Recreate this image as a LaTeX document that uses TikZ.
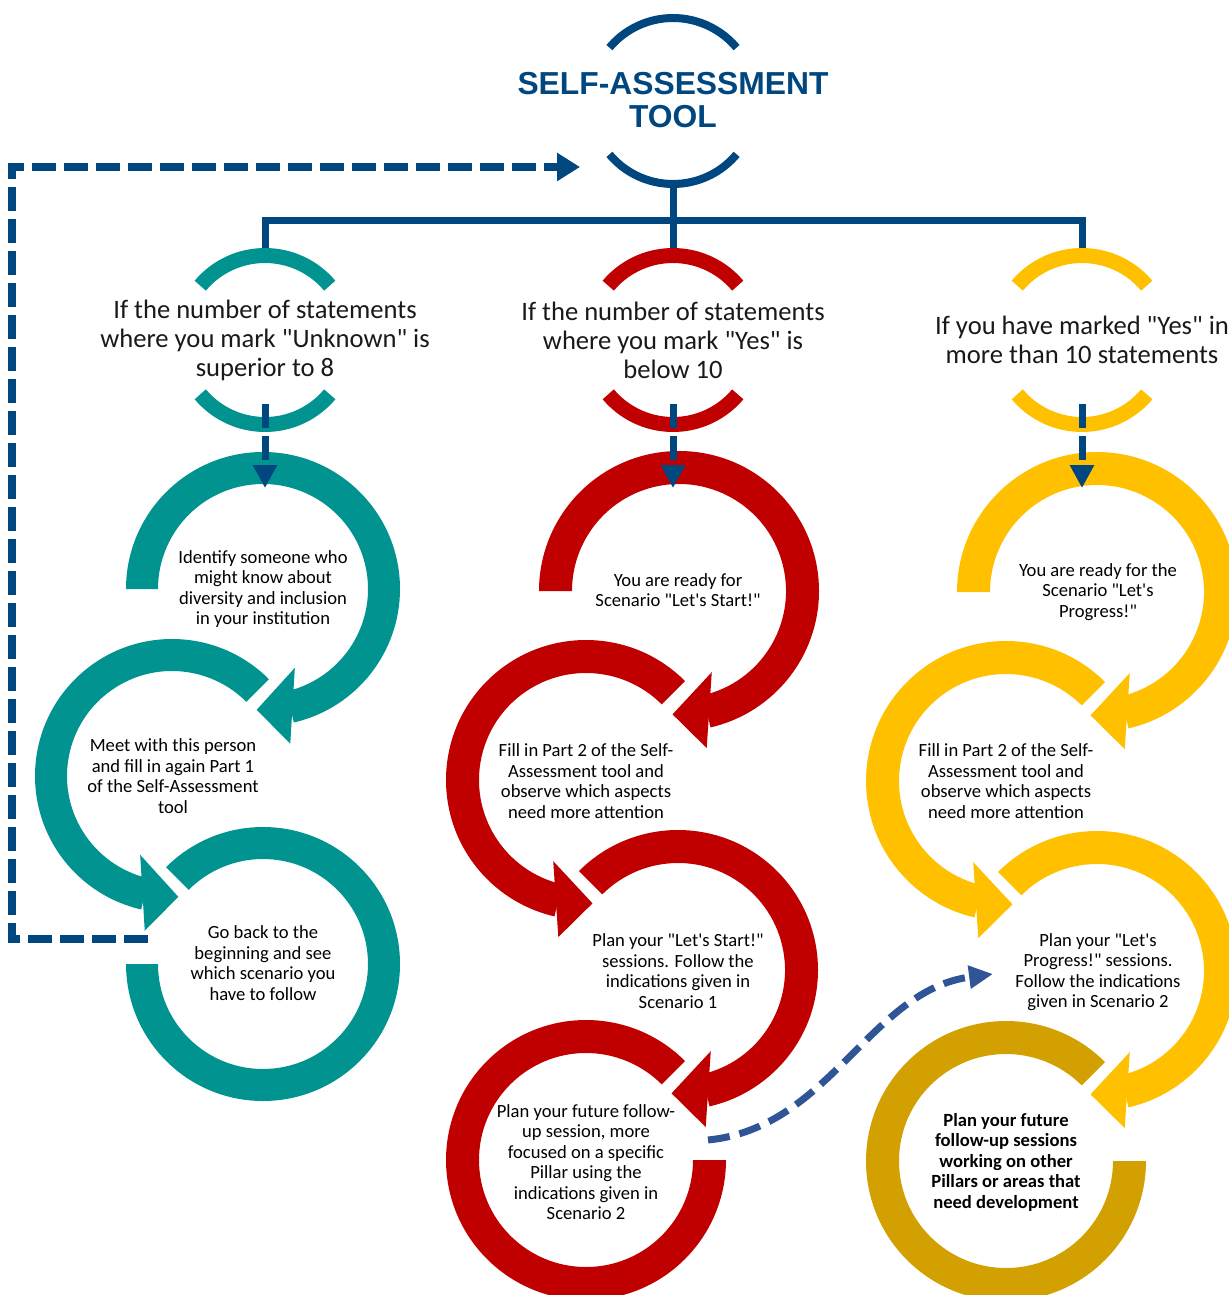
\documentclass[tikz,border=0pt]{standalone}
\usepackage{fontspec}
\setmainfont{Carlito}[Ligatures=TeXOff]
\newfontfamily\titlefont{Liberation Sans}[Ligatures=TeXOff]
\usetikzlibrary{arrows.meta}
\definecolor{navy}{RGB}{0,70,127}
\definecolor{tealc}{RGB}{0,147,144}
\definecolor{redc}{RGB}{192,0,0}
\definecolor{goldc}{RGB}{255,192,0}
\definecolor{darkgoldc}{RGB}{210,160,0}
\definecolor{curveblue}{RGB}{47,85,151}
% ring band: cx, cy, start angle, end angle, inner r, outer r, colour
\newcommand\RingBand[7]{\begin{scope}[shift={(#1,#2)}]\fill[#7] (#3:#6) arc[start angle=#3,end angle=#4,radius=#6] -- (#4:#5) arc[start angle=#4,end angle=#3,radius=#5] -- cycle;\end{scope}}
% ring head: cx, cy, inner base angle, tip angle, outer base angle, mid r, colour
\newcommand\RingHead[7]{\begin{scope}[shift={(#1,#2)}]\fill[#7] (#3:{#6-36}) -- (#4:#6) -- (#5:{#6+36}) -- cycle;\end{scope}}
\tikzset{
  ctext/.style={align=center,inner sep=0pt,text=black,font=\fontsize{9.3}{10.25}\selectfont},
  htext/.style={align=center,inner sep=0pt,text=black!90,font=\fontsize{13.3}{14.5}\selectfont},
  titletext/.style={align=center,inner sep=0pt,text=navy,font=\titlefont\bfseries\fontsize{15.9}{16.5}\selectfont},
  tree/.style={navy,line width=3.5pt},
  hdarc/.style={line width=7.5pt},
  downarrow/.style={navy,line width=3.5pt,dash pattern=on 12pt off 4pt,-{Triangle[length=11.5pt,width=11.5pt]}},
  looparrow/.style={navy,line width=4pt,dash pattern=on 12pt off 4pt,-{Triangle[length=11.5pt,width=13.5pt]}},
  curvearrow/.style={curveblue,line width=3.5pt,dash pattern=on 11pt off 5pt,-{Triangle[length=12pt,width=11pt]}}
}
\begin{document}
\begin{tikzpicture}[x=0.5pt,y=0.5pt]
\useasboundingbox (0,0) rectangle (1229,-1295);
% ---------- title ----------
\draw[navy,line width=4pt] (673,-101) ++(40:83) arc[start angle=40,end angle=140,radius=83];
\draw[navy,line width=4pt] (673,-101) ++(220:83) arc[start angle=220,end angle=320,radius=83];
\node[titletext] (title) at (673,-100) {SELF-ASSESSMENT\\TOOL};
% ---------- tree ----------
\coordinate (tb) at (673,-186);
\coordinate (hl) at (265,-252);
\coordinate (hm) at (673,-252);
\coordinate (hr) at (1082,-252);
\coordinate (trr) at (1082,-220);
\draw[tree] (tb) -- (hm);
\draw[tree] (hl) |- (trr) -- (hr);
% ---------- header arcs ----------
\foreach \cx/\col in {265/tealc,673/redc,1082/goldc}{
  \draw[hdarc,\col] (\cx,-340) ++(40:84.5) arc[start angle=40,end angle=140,radius=84.5];
  \draw[hdarc,\col] (\cx,-340) ++(220:84.5) arc[start angle=220,end angle=320,radius=84.5];
}
\node[htext] (h1) at (265,-340) {If the number of statements\\where you mark "Unknown" is\\superior to 8};
\node[htext] (h2) at (673,-340) {If the number of statements\\where you mark "Yes" is\\below 10};
\node[htext] (h3) at (1082,-340) {If you have marked "Yes" in\\more than 10 statements};
% ---------- teal column ----------
\RingBand{263}{-589}{180}{-77}{105}{137}{tealc}
\RingHead{263}{-589}{-68}{-93}{-80}{121}{tealc}
\RingBand{172}{-776}{45}{257}{105}{137}{tealc}
\RingHead{172}{-776}{248}{273}{260}{121}{tealc}
\RingBand{263}{-964}{135}{-180}{105}{137}{tealc}
% ---------- red column ----------
\RingBand{679}{-591}{180}{-77}{107}{140}{redc}
\RingHead{679}{-591}{-68}{-93}{-80}{123.5}{redc}
\RingBand{586}{-780}{45}{257}{107}{140}{redc}
\RingHead{586}{-780}{248}{273}{260}{123.5}{redc}
\RingBand{678}{-970}{135}{-77}{107}{140}{redc}
\RingHead{678}{-970}{-68}{-93}{-80}{123.5}{redc}
\RingBand{586}{-1160}{45}{360}{107}{140}{redc}
% ---------- yellow column ----------
\RingBand{1097}{-592}{180}{-77}{107}{140}{goldc}
\RingHead{1097}{-592}{-68}{-93}{-80}{123.5}{goldc}
\RingBand{1006}{-781}{45}{257}{107}{140}{goldc}
\RingHead{1006}{-781}{248}{273}{260}{123.5}{goldc}
\RingBand{1097}{-971}{135}{-77}{107}{140}{goldc}
\RingHead{1097}{-971}{-68}{-93}{-80}{123.5}{goldc}
\RingBand{1006}{-1161}{45}{360}{107}{140}{darkgoldc}
% ---------- dashed connectors ----------
\coordinate (d1s) at (265,-404); \coordinate (d1e) at (265,-488);
\coordinate (d2s) at (673,-404); \coordinate (d2e) at (673,-488);
\coordinate (d3s) at (1082,-404); \coordinate (d3e) at (1082,-488);
\draw[downarrow] (d1s) -- (d1e);
\draw[downarrow] (d2s) -- (d2e);
\draw[downarrow] (d3s) -- (d3e);
\coordinate (ls) at (148,-939);
\coordinate (lc1) at (12,-939);
\coordinate (lc2) at (12,-167);
\coordinate (le) at (580,-167);
\draw[looparrow] (ls) -- (lc1) -- (lc2) -- (le);
\coordinate (cs) at (708,-1140);
\coordinate (ce) at (993,-974);
\draw[curvearrow] (cs) .. controls (830,-1128) and (870,-990) .. (ce);
% ---------- circle texts ----------
\node[ctext] (t1) at (263,-589) {Identify someone who\\might know about\\diversity and inclusion\\in your institution};
\node[ctext] (t2) at (173,-776) {Meet with this person\\and fill in again Part 1\\of the Self-Assessment\\tool};
\node[ctext] (t3) at (263,-963) {Go back to the\\beginning and see\\which scenario you\\have to follow};
\node[ctext] (r1) at (678,-590) {You are ready for\\Scenario "Let's Start!"};
\node[ctext] (r2) at (586,-781) {Fill in Part 2 of the Self-\\Assessment tool and\\observe which aspects\\need more attention};
\node[ctext] (r3) at (678,-971) {Plan your "Let's Start!"\\sessions. Follow the\\indications given in\\Scenario 1};
\node[ctext] (r4) at (586,-1162) {Plan your future follow-\\up session, more\\focused on a specific\\Pillar using the\\indications given in\\Scenario 2};
\node[ctext] (y1) at (1098,-592) {You are ready for the\\Scenario "Let's\\Progress!"};
\node[ctext] (y2) at (1006,-781) {Fill in Part 2 of the Self-\\Assessment tool and\\observe which aspects\\need more attention};
\node[ctext] (y3) at (1098,-972) {Plan your "Let's\\Progress!" sessions.\\Follow the indications\\given in Scenario 2};
\node[ctext,font=\bfseries\fontsize{9.3}{10.25}\selectfont] (y4) at (1006,-1162) {Plan your future\\follow-up sessions\\working on other\\Pillars or areas that\\need development};
\end{tikzpicture}
\end{document}
